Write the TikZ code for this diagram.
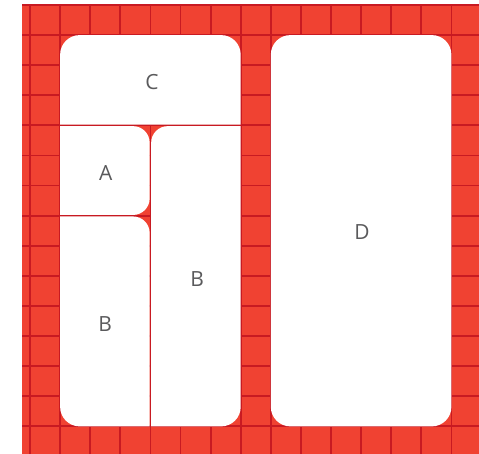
\documentclass[tikz,border=0pt]{standalone}
\usepackage{fontspec}
\setmainfont{Open Sans}
\usepackage{tikz}
\usetikzlibrary{calc,positioning}
\definecolor{grid-red}{HTML}{F04232}
\definecolor{grid-line}{HTML}{C81A22}
\definecolor{label-gray}{HTML}{5A5A5C}
% #1,#2 top left, #3,#4 bottom right, then radii TL TR BR BL
\newcommand\panelpath[8]{%
  \fill[white] ($(#1,#2)+(#5,0)$) -- ($(#3,#2)+(-#6,0)$)
    arc[start angle=-90, end angle=0, radius=#6] -- ($(#3,#4)+(0,-#7)$)
    arc[start angle=0, end angle=90, radius=#7] -- ($(#1,#4)+(#8,0)$)
    arc[start angle=90, end angle=180, radius=#8] -- ($(#1,#2)+(0,#5)$)
    arc[start angle=180, end angle=270, radius=#5] -- cycle;}

\begin{document}
\begin{tikzpicture}[x=30.1bp, y=-30.1bp,
    gridline/.style={grid-line, line width=1.8bp},
    roomlabel/.style={text=label-gray, font=\fontsize{21}{24}\selectfont, inner sep=0pt}]
    \useasboundingbox (-0.997,-0.166) rectangle (14.917,14.917);
    \fill[grid-red] (-0.266,0) rectangle (14.917,14.917);
    \foreach \i in {0,...,14} {
        \draw[gridline] (\i,0) -- (\i,14.917);
        \draw[gridline] (-0.266,\i) -- (14.917,\i);
    }
    \panelpath{1}{1}{7}{3.975}{0.65}{0.65}{0.001}{0.001}
    \panelpath{1}{4.025}{3.975}{6.975}{0.001}{0.55}{0.55}{0.001}
    \panelpath{1}{7.025}{3.975}{14}{0.001}{0.55}{0.001}{0.65}
    \panelpath{4.025}{4.025}{7}{14}{0.55}{0.001}{0.65}{0.001}
    \panelpath{8}{1}{14}{14}{0.65}{0.65}{0.65}{0.65}
    \node[roomlabel] (c) at (4.05,2.56) {C};
    \node[roomlabel] (a) at (2.52,5.58) {A};
    \node[roomlabel] (bl) at (2.5,10.6) {B};
    \node[roomlabel] (br) at (5.55,9.12) {B};
    \node[roomlabel] (d) at (11.03,7.54) {D};
\end{tikzpicture}
\end{document}
